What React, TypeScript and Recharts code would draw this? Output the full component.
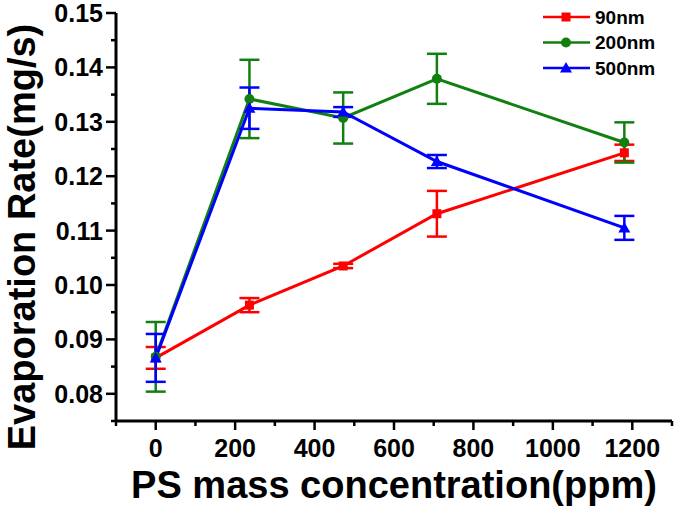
import { LineChart, Line, XAxis, YAxis, ErrorBar, Legend } from "recharts";

const concentration = [0, 236, 472, 708, 1180];

const rate90 = [0.0866, 0.0963, 0.1035, 0.1131, 0.1243];
const err90 = [0.002, 0.0013, 0.0004, 0.0042, 0.0015];
const rate200 = [0.0868, 0.1342, 0.1307, 0.1379, 0.1262];
const err200 = [0.0064, 0.0072, 0.0047, 0.0046, 0.0037];
const rate500 = [0.0866, 0.1325, 0.1318, 0.1227, 0.1105];
const err500 = [0.0044, 0.0038, 0.0009, 0.0012, 0.0022];

const xTicks = [-100, 0, 100, 200, 300, 400, 500, 600, 700, 800, 900, 1000, 1100, 1200, 1300];
const yTicks = [0.075, 0.08, 0.085, 0.09, 0.095, 0.1, 0.105, 0.11, 0.115, 0.12, 0.125, 0.13, 0.135, 0.14, 0.145, 0.15];

const series = [
  { key: "r90", err: "e90", name: "90nm", color: "#FF0000", shape: "square" },
  { key: "r200", err: "e200", name: "200nm", color: "#118011", shape: "circle" },
  { key: "r500", err: "e500", name: "500nm", color: "#0000FF", shape: "triangle" },
];

const data = concentration.map((x, i) => ({
  x,
  r90: rate90[i],
  e90: err90[i],
  r200: rate200[i],
  e200: err200[i],
  r500: rate500[i],
  e500: err500[i],
}));

const FONT = "'Liberation Sans', Arial, sans-serif";

function Marker({ shape, cx, cy, color }: { shape: string; cx: number; cy: number; color: string }) {
  if (shape === "square") return <rect x={cx - 4.5} y={cy - 4.5} width={9} height={9} fill={color} />;
  if (shape === "circle") return <circle cx={cx} cy={cy} r={5} fill={color} />;
  return <polygon points={`${cx},${cy - 6} ${cx - 6},${cy + 4.5} ${cx + 6},${cy + 4.5}`} fill={color} />;
}

function XTick(props: any) {
  const { x, y, payload } = props;
  const major = payload.value % 200 === 0;
  return (
    <g>
      <line x1={x} y1={y} x2={x} y2={y + (major ? 9 : 5)} stroke="#000" strokeWidth={2.5} />
      {major && (
        <text x={x} y={y + 36} textAnchor="middle" fontFamily={FONT} fontWeight="bold" fontSize={25} fill="#000">
          {payload.value}
        </text>
      )}
    </g>
  );
}

function YTick(props: any) {
  const { x, y, payload } = props;
  const major = Math.round(payload.value * 200) % 2 === 0;
  return (
    <g>
      <line x1={x} y1={y} x2={x - (major ? 10 : 5)} y2={y} stroke="#000" strokeWidth={2.5} />
      {major && (
        <text x={x - 13} y={y + 9} textAnchor="end" fontFamily={FONT} fontWeight="bold" fontSize={25} fill="#000">
          {payload.value.toFixed(2)}
        </text>
      )}
    </g>
  );
}

function LegendBox() {
  return (
    <svg width={135} height={80}>
      {series.map((s, i) => (
        <g key={s.key}>
          <line x1={3} y1={11 + i * 25.5} x2={50} y2={11 + i * 25.5} stroke={s.color} strokeWidth={2.5} />
          <Marker shape={s.shape} cx={26} cy={11 + i * 25.5} color={s.color} />
          <text x={55} y={17.5 + i * 25.5} fontFamily={FONT} fontWeight="bold" fontSize={19} fill="#000">
            {s.name}
          </text>
        </g>
      ))}
    </svg>
  );
}

export default function App() {
  return (
    <div style={{ position: "absolute", left: 0, top: 0, width: 675, height: 507, background: "#fff" }}>
      <LineChart width={675} height={507} data={data} margin={{ top: 13, right: 3, left: 0, bottom: 0 }}>
        <XAxis
          dataKey="x"
          type="number"
          domain={[-100, 1300]}
          ticks={xTicks}
          interval={0}
          height={86}
          tickSize={0}
          tickMargin={0}
          tickLine={false}
          tick={<XTick />}
          axisLine={{ stroke: "#000", strokeWidth: 3 }}
          label={{
            content: () => (
              <text x={394} y={498} textAnchor="middle" fontFamily={FONT} fontWeight="bold" fontSize={38} fill="#000">
                PS mass concentration(ppm)
              </text>
            ),
          }}
        />
        <YAxis
          type="number"
          domain={[0.075, 0.15]}
          ticks={yTicks}
          interval={0}
          width={116}
          tickSize={0}
          tickMargin={0}
          tickLine={false}
          tick={<YTick />}
          axisLine={{ stroke: "#000", strokeWidth: 3 }}
          label={{
            content: () => (
              <text
                x={35}
                y={237}
                transform="rotate(-90, 35, 237)"
                textAnchor="middle"
                fontFamily={FONT}
                fontWeight="bold"
                fontSize={38}
                fill="#000"
              >
                Evaporation Rate(mg/s)
              </text>
            ),
          }}
        />
        <Legend
          layout="horizontal"
          verticalAlign="middle"
          align="center"
          wrapperStyle={{ position: "absolute", left: 540, top: 6, width: 135 }}
          content={() => <LegendBox />}
        />
        {series.map((s) => (
          <Line
            key={s.key}
            type="linear"
            dataKey={s.key}
            name={s.name}
            stroke={s.color}
            strokeWidth={3}
            isAnimationActive={false}
            dot={(p: any) => <Marker key={`${s.key}-${p.index}`} shape={s.shape} cx={p.cx} cy={p.cy} color={s.color} />}
          >
            <ErrorBar dataKey={s.err} width={10} strokeWidth={2.5} stroke={s.color} direction="y" />
          </Line>
        ))}
      </LineChart>
    </div>
  );
}
